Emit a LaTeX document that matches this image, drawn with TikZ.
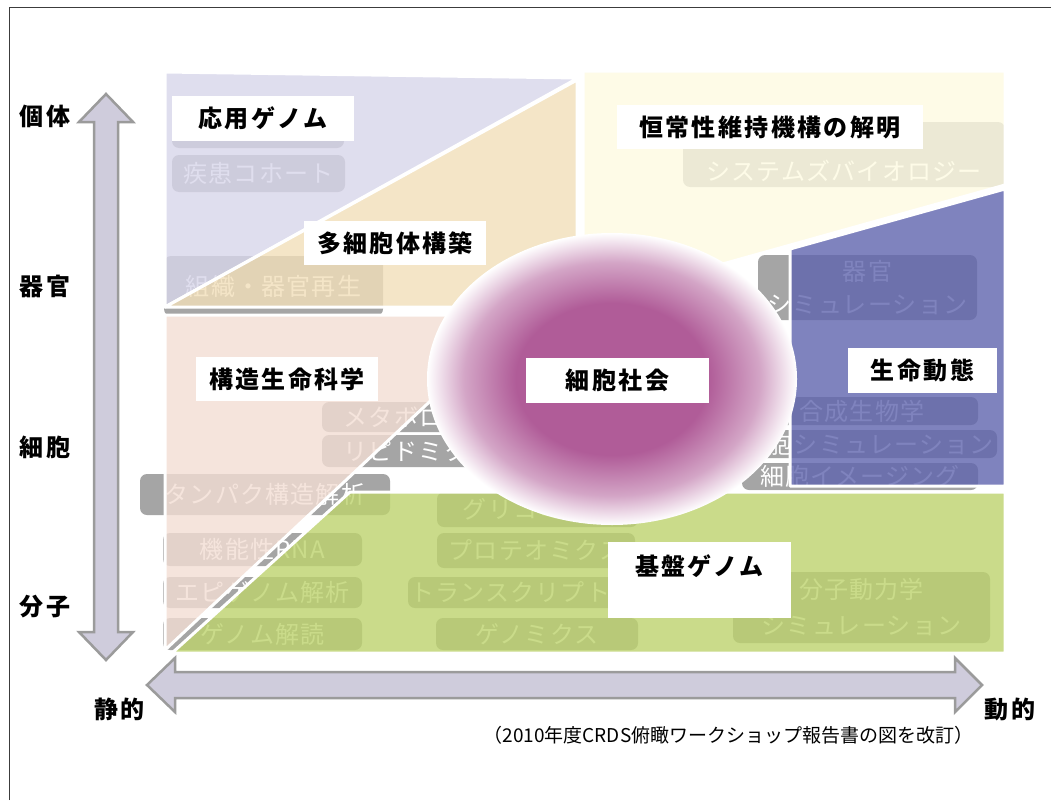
\documentclass[tikz,border=0pt]{standalone}
\usepackage{fontspec}
\usetikzlibrary{shapes.geometric}
\newfontfamily\jp{Noto Sans CJK JP}
\newfontfamily\jpl[LetterSpace=10]{Noto Sans CJK JP}
\newfontfamily\jpp[LetterSpace=5]{Noto Sans CJK JP}
\definecolor{lav}{RGB}{216,214,234}
\definecolor{tanc}{RGB}{242,223,186}
\definecolor{sal}{RGB}{243,222,212}
\definecolor{yel}{RGB}{254,251,226}
\definecolor{blu}{RGB}{96,101,174}
\definecolor{grn}{RGB}{189,211,109}
\definecolor{pillg}{RGB}{165,165,165}
\definecolor{mag}{RGB}{176,92,152}
\definecolor{arrf}{RGB}{207,204,220}
\definecolor{arrd}{RGB}{155,155,155}
\definecolor{framec}{RGB}{60,60,60}
\pgfdeclareradialshading{cellball}{\pgfpoint{0bp}{0bp}}{color(0bp)=(mag); color(13bp)=(mag); color(20bp)=(mag!55!white); color(25bp)=(white); color(50bp)=(white)}
\tikzset{
 pill/.style={fill=pillg, rounded corners=7pt, text=white, font=\jpp\fontsize{24}{29}\selectfont, inner sep=0pt, align=center},
 region/.style={draw=white, line width=3pt, fill opacity=0.8, line join=round},
 lbl/.style={fill=white, inner sep=0pt, font=\jpl\bfseries\fontsize{24}{28}\selectfont, text=black},
 lbltext/.style={inner sep=0pt, font=\jpl\bfseries\fontsize{24}{28}\selectfont, text=black},
 axlbl/.style={inner sep=0pt, font=\jpl\bfseries\fontsize{24}{28}\selectfont, text=black},
 axarrow/.style={fill=arrf, draw=arrd, line width=2.5pt, line join=miter},
}
\begin{document}
\begin{tikzpicture}[x=1pt,y=-1pt]
\useasboundingbox (0,0) rectangle (1051,800);
\fill[white] (0,0) rectangle (1051,800);
\draw[framec, line width=1.6pt] (9.5,800) -- (9.5,7.5) -- (1051,7.5);

% ---- gray pills (under the coloured regions)
\node[pill, minimum width=172pt, minimum height=37pt] (p1) at (258,129.5) {};
\node[pill, minimum width=173pt, minimum height=37pt] (p2) at (258.5,173.5) {疾患コホート};
\node[pill, minimum width=219pt, minimum height=60pt] (p3) at (273.5,286) {組織・器官再生};
\node[pill, minimum width=322pt, minimum height=65pt] (p4) at (844,154.5) {};
\node[pill, inner sep=0pt] (p4t) at (844,171) {システムズバイオロジー};
\node[pill, minimum width=219pt, minimum height=65pt] (p5) at (867.5,287.5) {器官\\[4pt]シミュレーション};
\node[pill, minimum width=232pt, minimum height=28pt] (p6) at (862,411) {合成生物学};
\node[pill, minimum width=257pt, minimum height=28pt] (p7) at (868.5,444) {細胞シミュレーション};
\node[pill, minimum width=236pt, minimum height=27pt] (p8) at (860,476.5) {細胞イメージング};
\node[pill, minimum width=218pt, minimum height=30pt] (p9) at (431,417) {メタボロミクス};
\node[pill, minimum width=192pt, minimum height=32pt] (p10) at (418,451) {リピドミクス};
\node[pill, minimum width=250pt, minimum height=41pt] (p11) at (265,494.5) {タンパク構造解析};
\node[pill, minimum width=199pt, minimum height=33pt] (p12) at (262.5,549.5) {機能性RNA};
\node[pill, minimum width=199pt, minimum height=31pt] (p13) at (262.5,592.5) {エピゲノム解析};
\node[pill, minimum width=199pt, minimum height=32pt] (p14) at (262.5,634) {ゲノム解読};
\node[pill, minimum width=201pt, minimum height=35pt] (p15) at (537.5,509.5) {グリコミクス};
\node[pill, minimum width=198pt, minimum height=35pt] (p16) at (536,550.5) {プロテオミクス};
\node[pill, minimum width=254pt, minimum height=31pt] (p17) at (535,592.5) {トランスクリプトーム};
\node[pill, minimum width=202pt, minimum height=32pt] (p18) at (537,634) {ゲノミクス};
\node[pill, minimum width=257pt, minimum height=71pt] (p19) at (861.5,607.5) {分子動力学\\[7pt]シミュレーション};

% ---- coloured regions
\path[region, fill=lav]  (165,72) -- (578,78) -- (165,307) -- cycle;
\path[region, fill=tanc] (577,80) -- (577,307) -- (165,307) -- cycle;
\path[region, fill=yel]  (583,71) -- (1005,71) -- (1005,185) -- (583,303) -- cycle;
\path[region, fill=sal]  (165,315) -- (522,315) -- (165,650) -- cycle;
\path[region, fill=grn]  (172,653) -- (350,492) -- (1005,492) -- (1005,653) -- cycle;
\path[region, fill=blu]  (790,249) -- (1005,189) -- (1005,486) -- (790,486) -- cycle;

% ---- cell society ellipse
\node[ellipse, shade, shading=cellball, minimum width=370pt, minimum height=292pt, inner sep=0pt] (cell) at (612,379) {};

% ---- axis arrows
\path[axarrow] (106,94) -- (133,122) -- (118,122) -- (118,632) -- (133,632) -- (106,660) -- (79,632) -- (94,632) -- (94,122) -- (79,122) -- cycle;
\path[axarrow] (147,685) -- (175,658) -- (175,672) -- (955,672) -- (955,658) -- (982,685) -- (955,712) -- (955,698) -- (175,698) -- (175,712) -- cycle;

% ---- labels
\node[lbl, minimum width=182pt, minimum height=45pt] (l1) at (263,118.5) {応用ゲノム};
\node[lbl, minimum width=182pt, minimum height=44pt] (l2) at (395,243) {多細胞体構築};
\node[lbl, minimum width=306pt, minimum height=44pt] (l3) at (770,127) {恒常性維持機構の解明};
\node[lbl, minimum width=182pt, minimum height=44pt] (l4) at (287,379) {構造生命科学};
\node[lbl, minimum width=183pt, minimum height=45pt] (l5) at (617.5,380.5) {細胞社会};
\node[lbl, minimum width=149pt, minimum height=45pt] (l6) at (922.5,370.5) {生命動態};
\node[lbl, minimum width=183pt, minimum height=76pt] (l7) at (699.5,580) {};
\node[lbltext] (l7t) at (699.5,566) {基盤ゲノム};

% ---- axis labels
\node[axlbl] (a1) at (45,116) {個体};
\node[axlbl] (a2) at (45,286) {器官};
\node[axlbl] (a3) at (45,447) {細胞};
\node[axlbl] (a4) at (45,607) {分子};
\node[axlbl] (a5) at (119.5,709) {静的};
\node[axlbl] (a6) at (1010,709) {動的};

\node[inner sep=0pt, font=\jp\fontsize{19}{22}\selectfont] (cap) at (728.5,735) {（2010年度CRDS俯瞰ワークショップ報告書の図を改訂）};
\end{tikzpicture}
\end{document}
